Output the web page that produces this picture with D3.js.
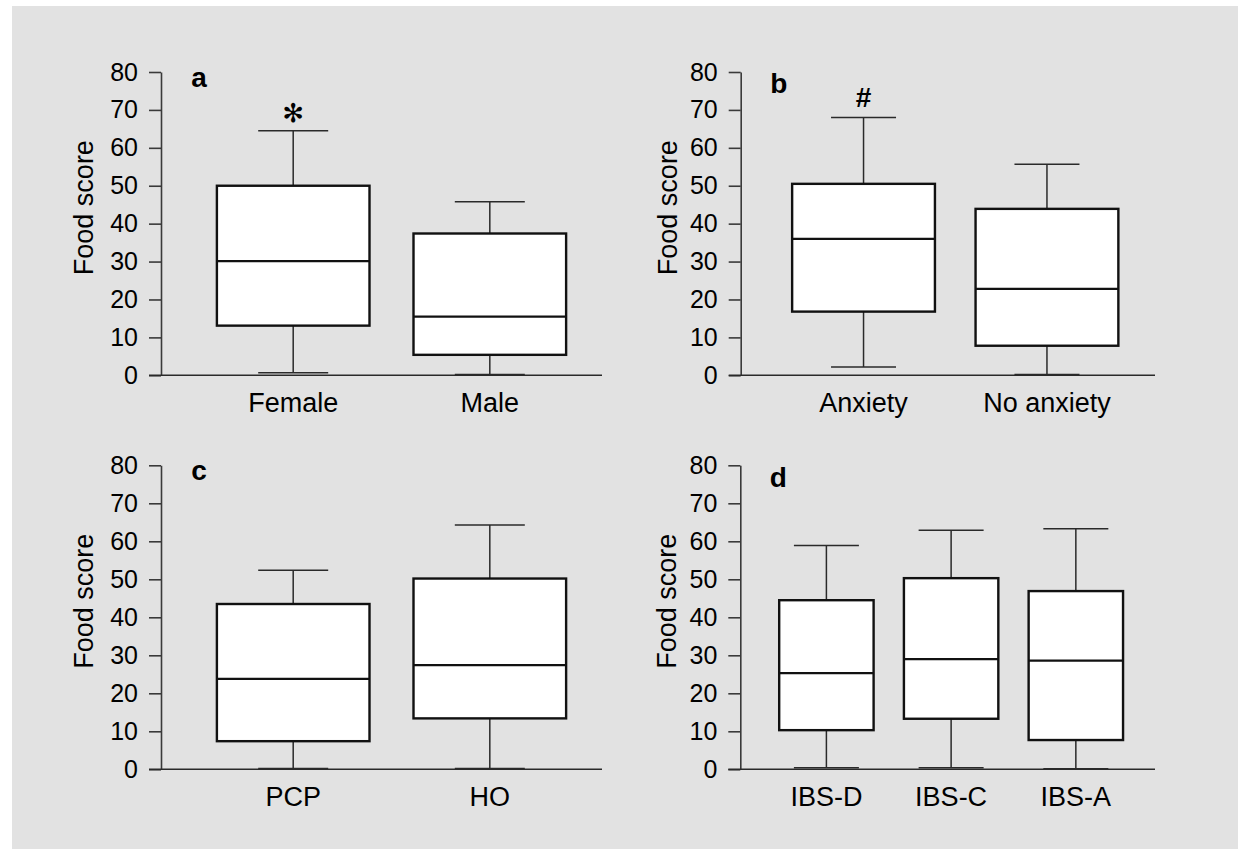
<!DOCTYPE html>
<html>
<head>
<meta charset="utf-8">
<script src="https://cdn.jsdelivr.net/npm/d3@7"></script>
<style>
  html, body { margin: 0; padding: 0; background: #ffffff; }
  svg { display: block; }
  text { font-family: "Liberation Sans", Arial, Helvetica, sans-serif; fill: #000; }
</style>
</head>
<body>
<svg id="chart" width="1238" height="849"></svg>
<script>
// ---------------- DATA ----------------
const yTicks = [0, 10, 20, 30, 40, 50, 60, 70, 80];
const yDomain = [0, 80];
const yLabel = "Food score";

// each box: [min, Q1, median, Q3, max]
const panelALetter = "a";
const panelACategories = ["Female", "Male"];
const panelAValues = [[0.7, 13.1, 30.1, 50.0, 64.5], [0.2, 5.4, 15.5, 37.4, 45.8]];
const panelAMarks = ["✻", ""];

const panelBLetter = "b";
const panelBCategories = ["Anxiety", "No anxiety"];
const panelBValues = [[2.2, 16.8, 36.0, 50.5, 68.0], [0.2, 7.8, 22.8, 43.9, 55.7]];
const panelBMarks = ["#", ""];

const panelCLetter = "c";
const panelCCategories = ["PCP", "HO"];
const panelCValues = [[0.2, 7.4, 23.8, 43.5, 52.4], [0.2, 13.4, 27.4, 50.2, 64.3]];
const panelCMarks = ["", ""];

const panelDLetter = "d";
const panelDCategories = ["IBS-D", "IBS-C", "IBS-A"];
const panelDValues = [[0.4, 10.3, 25.3, 44.5, 58.9], [0.4, 13.3, 29.0, 50.3, 62.9], [0.15, 7.7, 28.6, 46.9, 63.3]];
const panelDMarks = ["", "", ""];

// ---------------- LAYOUT ----------------
const svg = d3.select("#chart");
svg.append("rect").attr("x", 12).attr("y", 6).attr("width", 1226).attr("height", 843).attr("fill", "#e2e2e2");

const panels = [
  { letter: panelALetter, cats: panelACategories, vals: panelAValues, marks: panelAMarks,
    x0: 161, x1: 602, top: 72, bottom: 375.3, pi: 0.2238, po: 0.2334, align: 0.609, cap: 70, labelOff: 67.7 },
  { letter: panelBLetter, cats: panelBCategories, vals: panelBValues, marks: panelBMarks,
    x0: 740.7, x1: 1155, top: 72, bottom: 375.3, pi: 0.2215, po: 0.2401, align: 0.584, cap: 65, labelOff: 64 },
  { letter: panelCLetter, cats: panelCCategories, vals: panelCValues, marks: panelCMarks,
    x0: 161, x1: 602, top: 465.3, bottom: 769.3, pi: 0.2238, po: 0.2334, align: 0.609, cap: 70, labelOff: 67.7 },
  { letter: panelDLetter, cats: panelDCategories, vals: panelDValues, marks: panelDMarks,
    x0: 740.3, x1: 1155, top: 465.3, bottom: 769.3, pi: 0.243, po: 0.284, align: 0.549, cap: 65, labelOff: 64 }
];

const tickLen = 12;

panels.forEach(p => {
  const g = svg.append("g");
  const y = d3.scaleLinear().domain(yDomain).range([p.bottom, p.top]);
  const x = d3.scaleBand().domain(p.cats).range([p.x0, p.x1])
    .paddingInner(p.pi).paddingOuter(p.po).align(p.align);

  // y axis
  const yAxis = d3.axisLeft(y).tickValues(yTicks).tickSize(tickLen).tickSizeOuter(0).tickPadding(11);
  const ya = g.append("g").attr("transform", `translate(${p.x0},0)`).call(yAxis);
  ya.select(".domain").attr("stroke", "#3a3a3a").attr("stroke-width", 1.6);
  ya.selectAll(".tick line").attr("stroke", "#3a3a3a").attr("stroke-width", 1.6);
  ya.selectAll(".tick text").attr("font-size", 25).attr("fill", "#000")
    .style("font-family", "'Liberation Sans', Arial, sans-serif");

  // x axis baseline
  g.append("line").attr("x1", p.x0 - tickLen).attr("x2", p.x1)
    .attr("y1", y(0)).attr("y2", y(0)).attr("stroke", "#2a2a2a").attr("stroke-width", 1.6);

  // y label
  g.append("text")
    .attr("transform", `translate(${p.x0 - p.labelOff},${(p.top + p.bottom) / 2 - 16}) rotate(-90)`)
    .attr("text-anchor", "middle").attr("font-size", 27).text(yLabel);

  // panel letter
  const hasAsc = /[bdfhklt]/.test(p.letter);
  g.append("text").attr("x", p.x0 + 38).attr("y", p.top + (hasAsc ? 21.3 : 15))
    .attr("text-anchor", "middle").attr("font-size", 28).attr("font-weight", "bold").text(p.letter);

  // boxes
  p.cats.forEach((c, i) => {
    const [mn, q1, md, q3, mx] = p.vals[i];
    const cx = x(c) + x.bandwidth() / 2;
    const bw = x.bandwidth();
    const bg = g.append("g");
    // whiskers
    bg.append("line").attr("x1", cx).attr("x2", cx).attr("y1", y(mn)).attr("y2", y(q1))
      .attr("stroke", "#2a2a2a").attr("stroke-width", 1.5);
    bg.append("line").attr("x1", cx).attr("x2", cx).attr("y1", y(q3)).attr("y2", y(mx))
      .attr("stroke", "#2a2a2a").attr("stroke-width", 1.5);
    [mn, mx].forEach(v => {
      bg.append("line").attr("x1", cx - p.cap / 2).attr("x2", cx + p.cap / 2)
        .attr("y1", y(v)).attr("y2", y(v)).attr("stroke", "#2a2a2a").attr("stroke-width", 1.5);
    });
    // box
    bg.append("rect").attr("x", x(c)).attr("y", y(q3)).attr("width", bw).attr("height", y(q1) - y(q3))
      .attr("fill", "#ffffff").attr("stroke", "#111").attr("stroke-width", 2.4);
    // median
    bg.append("line").attr("x1", x(c)).attr("x2", x(c) + bw).attr("y1", y(md)).attr("y2", y(md))
      .attr("stroke", "#111").attr("stroke-width", 2.2);
    // significance mark
    if (p.marks[i]) {
      const isHash = p.marks[i] === "#";
      g.append("text").attr("x", cx).attr("y", y(mx) - (isHash ? 10 : 9))
        .attr("text-anchor", "middle")
        .attr("font-size", isHash ? 28 : 26)
        .attr("font-weight", isHash ? "bold" : "normal")
        .style("font-family", isHash ? "'Liberation Sans', Arial, sans-serif" : "'DejaVu Sans', sans-serif")
        .text(p.marks[i]);
    }
    // category label
    g.append("text").attr("x", cx).attr("y", y(0) + 36.4).attr("text-anchor", "middle")
      .attr("font-size", 27).text(c);
  });
});
</script>
</body>
</html>
